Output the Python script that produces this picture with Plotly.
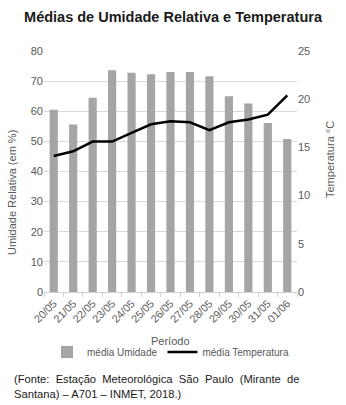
import plotly.graph_objects as go

periodo = ["20/05", "21/05", "22/05", "23/05", "24/05", "25/05", "26/05",
           "27/05", "28/05", "29/05", "30/05", "31/05", "01/06"]
umidade = [60.5, 55.6, 64.5, 73.6, 72.8, 72.3, 73.0, 73.0, 71.6, 65.0, 62.6, 56.1, 50.8]
temperatura = [14.1, 14.6, 15.6, 15.6, 16.5, 17.4, 17.7, 17.6, 16.8, 17.6, 17.9, 18.4, 20.4]

FONT = "Liberation Sans, Arial, sans-serif"
GRAY = "#595959"

fig = go.Figure()
fig.add_trace(go.Bar(x=periodo, y=umidade, name="média Umidade",
                     marker=dict(color="#a5a5a5", line=dict(width=0)), yaxis="y"))
fig.add_trace(go.Scatter(x=periodo, y=temperatura, name="média Temperatura",
                         mode="lines", line=dict(color="#000000", width=2.5), yaxis="y2"))

L, R, T, B = 44, 49, 51, 113
H_PLOT = 405 - T - B
W_PLOT = 346 - L - R

def py(px):
    return 1 - (px - T) / H_PLOT

def pxx(px):
    return (px - L) / W_PLOT

fig.update_layout(
    width=346, height=405,
    margin=dict(l=L, r=R, t=T, b=B, autoexpand=False),
    paper_bgcolor="white", plot_bgcolor="white",
    font=dict(family=FONT, color=GRAY, size=11),
    bargap=0.58,
    showlegend=True,
    title=dict(text="<b>Médias de Umidade Relativa e Temperatura</b>",
               x=0.5, xanchor="center", y=1 - 17 / 405, yanchor="middle",
               font=dict(family=FONT, size=14.5, color="#1a1a1a")),
    xaxis=dict(tickangle=-45, tickfont=dict(size=10.8, color=GRAY), automargin=False,
               showline=True, linecolor="#d0d0d0", linewidth=1,
               ticks="outside", tickson="boundaries", ticklen=4, tickcolor="#d0d0d0"),
    yaxis=dict(range=[0, 80], dtick=10, showgrid=True, gridcolor="#d9d9d9", gridwidth=1,
               zeroline=False, tickfont=dict(size=11, color=GRAY), ticks="", automargin=False),
    yaxis2=dict(range=[0, 25], dtick=5, overlaying="y", side="right", showgrid=False,
                zeroline=False, tickfont=dict(size=11, color=GRAY), ticks="", automargin=False),
    legend=dict(orientation="h", x=0.5, xanchor="center", y=py(352), yanchor="middle",
                font=dict(size=10, color=GRAY), itemwidth=30, tracegroupgap=0,
                bgcolor="rgba(0,0,0,0)"),
)

fig.add_annotation(text="Umidade Relativa (em %)", xref="paper", yref="paper",
                   x=pxx(12), y=py(193), xanchor="center", yanchor="middle", textangle=-90,
                   showarrow=False, font=dict(family=FONT, size=11, color=GRAY))
fig.add_annotation(text="Temperatura °C", xref="paper", yref="paper",
                   x=pxx(330), y=py(160), xanchor="center", yanchor="middle", textangle=-90,
                   showarrow=False, font=dict(family=FONT, size=11, color=GRAY))

fig.add_annotation(text="Período", xref="paper", yref="paper", x=0.5, y=py(341),
                   xanchor="center", yanchor="middle", showarrow=False,
                   font=dict(family=FONT, size=11, color=GRAY))

fig.add_annotation(
    text="(Fonte:  Estação  Meteorológica  São  Paulo  (Mirante  de<br>Santana) – A701 – INMET, 2018.)",
    xref="paper", yref="paper", x=pxx(12), y=py(371), xanchor="left", yanchor="top",
    align="left", showarrow=False, font=dict(family=FONT, size=11.2, color="#1a1a1a"))

fig.write_html("out.html")
